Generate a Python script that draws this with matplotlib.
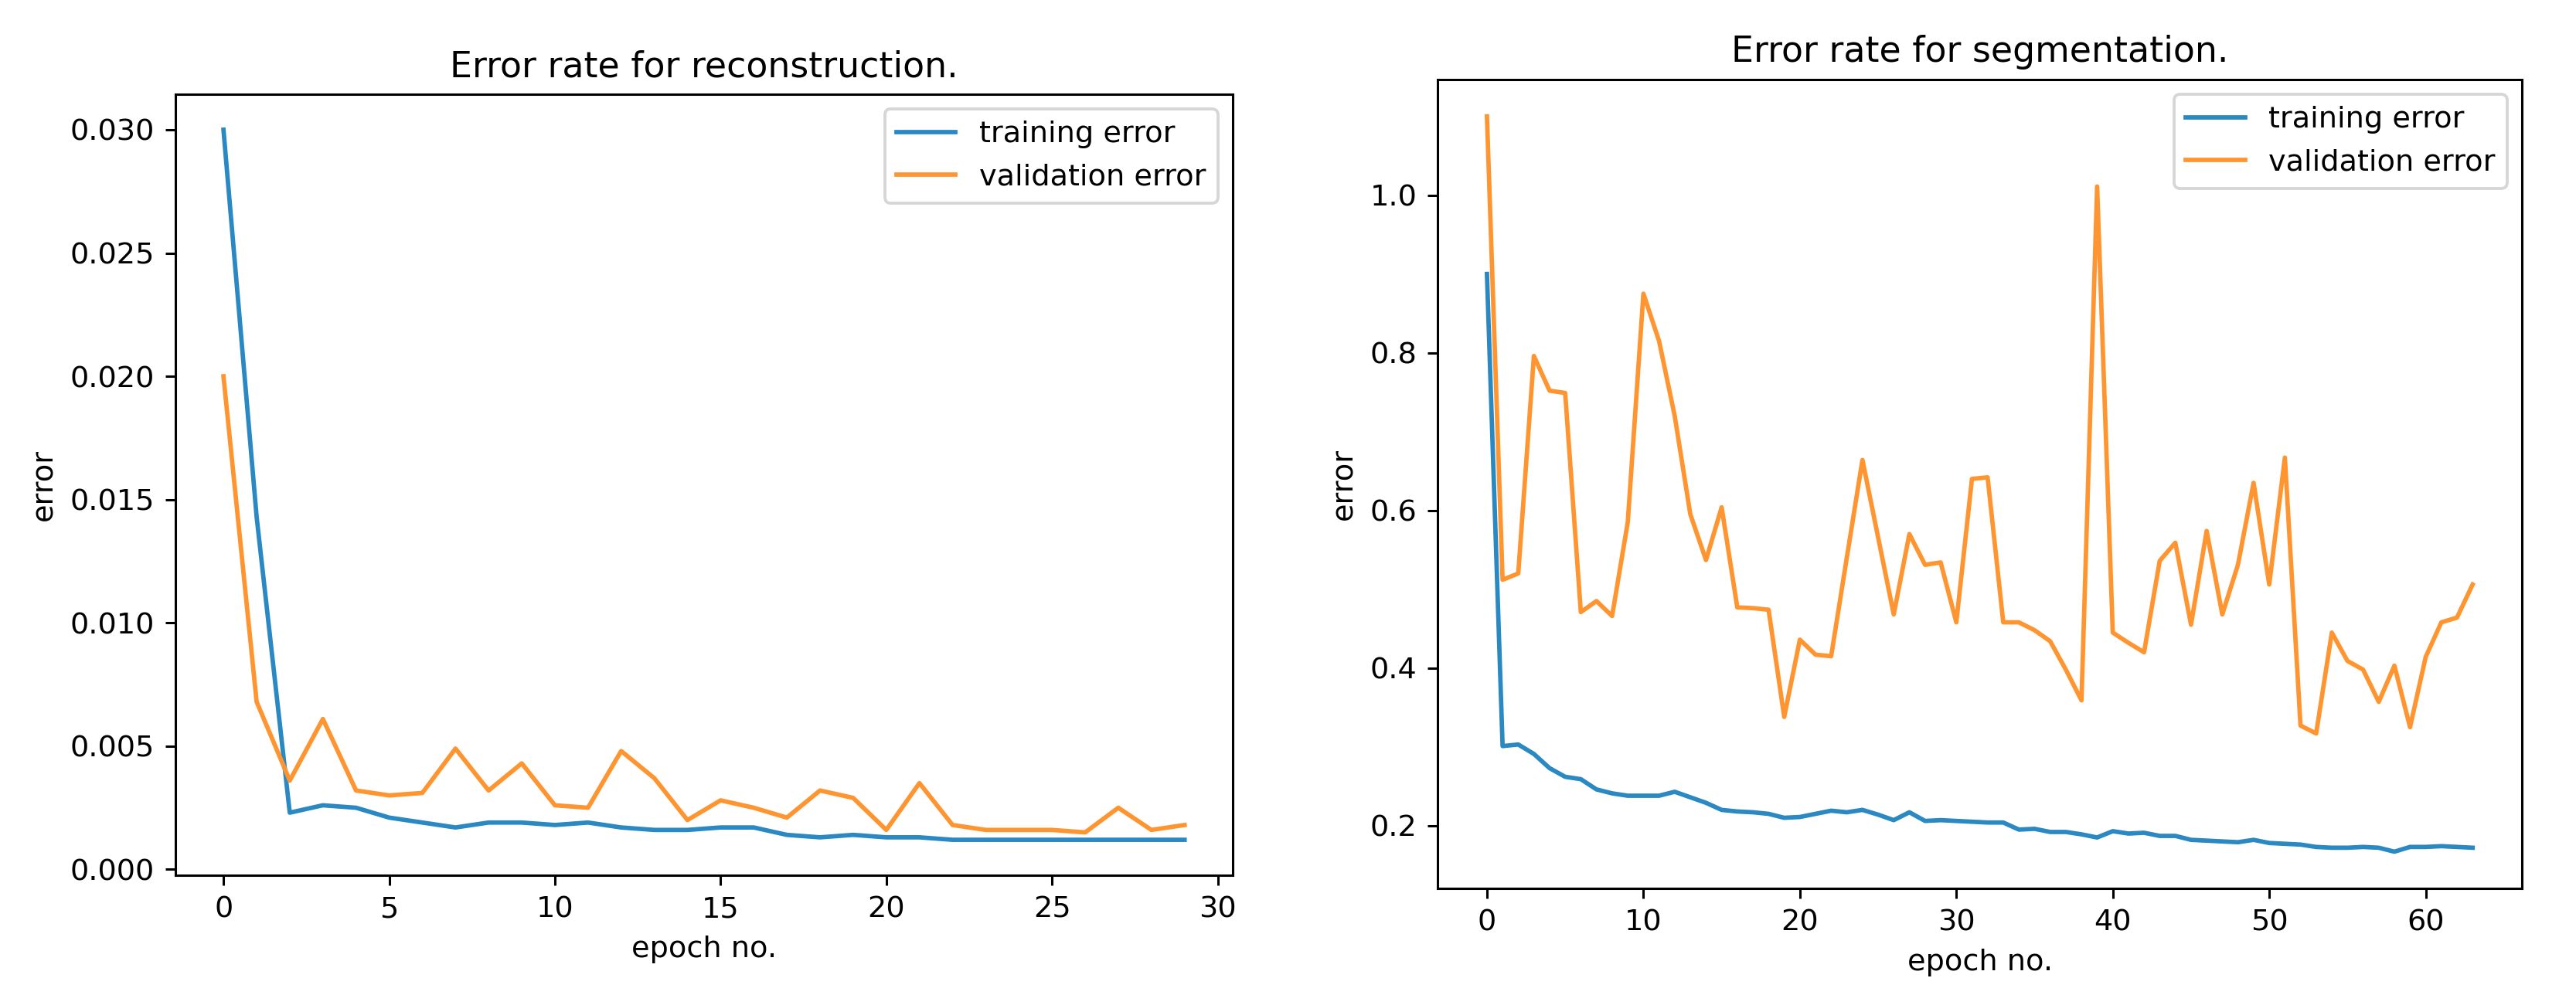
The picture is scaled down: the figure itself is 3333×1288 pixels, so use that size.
import matplotlib
matplotlib.use("Agg")
import matplotlib.pyplot as plt
import numpy as np

# Reconstruction (30 epochs)
rec_train = [0.0300, 0.0143, 0.0023, 0.0026, 0.0025, 0.0021, 0.0019, 0.0017, 0.0019, 0.0019,
             0.0018, 0.0019, 0.0017, 0.0016, 0.0016, 0.0017, 0.0017, 0.0014, 0.0013, 0.0014,
             0.0013, 0.0013, 0.0012, 0.0012, 0.0012, 0.0012, 0.0012, 0.0012, 0.0012, 0.0012]
rec_val = [0.0200, 0.0068, 0.0036, 0.0061, 0.0032, 0.0030, 0.0031, 0.0049, 0.0032, 0.0043,
           0.0026, 0.0025, 0.0048, 0.0037, 0.0020, 0.0028, 0.0025, 0.0021, 0.0032, 0.0029,
           0.0016, 0.0035, 0.0018, 0.0016, 0.0016, 0.0016, 0.0015, 0.0025, 0.0016, 0.0018]

# Segmentation (64 epochs)
seg_train = [0.900, 0.301, 0.303, 0.291, 0.273, 0.262, 0.259, 0.246, 0.241, 0.238,
             0.238, 0.238, 0.243, 0.236, 0.229, 0.220, 0.218, 0.217, 0.215, 0.210,
             0.211, 0.215, 0.219, 0.217, 0.220, 0.214, 0.207, 0.217, 0.206, 0.207,
             0.206, 0.205, 0.204, 0.204, 0.195, 0.196, 0.192, 0.192, 0.189, 0.185,
             0.193, 0.190, 0.191, 0.187, 0.187, 0.182, 0.181, 0.180, 0.179, 0.182,
             0.178, 0.177, 0.176, 0.173, 0.172, 0.172, 0.173, 0.172, 0.167, 0.173,
             0.173, 0.174, 0.173, 0.172]
seg_val = [1.100, 0.512, 0.520, 0.796, 0.752, 0.749, 0.471, 0.485, 0.466, 0.585,
           0.875, 0.815, 0.720, 0.595, 0.537, 0.604, 0.477, 0.476, 0.474, 0.338,
           0.436, 0.417, 0.415, 0.540, 0.664, 0.566, 0.468, 0.570, 0.531, 0.534,
           0.458, 0.640, 0.642, 0.458, 0.458, 0.448, 0.434, 0.398, 0.359, 1.011,
           0.445, 0.432, 0.420, 0.536, 0.559, 0.455, 0.574, 0.468, 0.531, 0.635,
           0.506, 0.667, 0.327, 0.317, 0.445, 0.409, 0.398, 0.357, 0.403, 0.325,
           0.414, 0.458, 0.464, 0.506]

BLUE = "#2a88c2"
ORANGE = "#ff9530"

DPI = 275
fig = plt.figure(figsize=(3333 / DPI, 1288 / DPI), dpi=DPI)

ax1 = fig.add_axes([0.0681, 0.1203, 0.4104, 0.785])
ax2 = fig.add_axes([0.5581, 0.1071, 0.4209, 0.8129])

ax1.plot(np.arange(len(rec_train)), rec_train, color=BLUE, label="training error")
ax1.plot(np.arange(len(rec_val)), rec_val, color=ORANGE, label="validation error")
ax1.set_title("Error rate for reconstruction.")
ax1.set_xlabel("epoch no.")
ax1.set_ylabel("error")
ax1.legend(loc="upper right")

ax2.plot(np.arange(len(seg_train)), seg_train, color=BLUE, label="training error")
ax2.plot(np.arange(len(seg_val)), seg_val, color=ORANGE, label="validation error")
ax2.set_title("Error rate for segmentation.")
ax2.set_xlabel("epoch no.")
ax2.set_ylabel("error")
ax2.legend(loc="upper right")

fig.savefig("out.png", dpi=DPI)
